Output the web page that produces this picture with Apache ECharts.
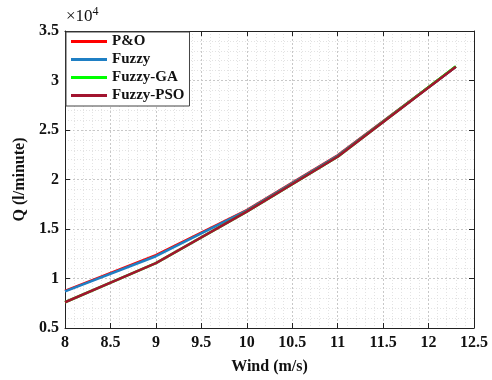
<!DOCTYPE html>
<html><head><meta charset="utf-8">
<script src="https://cdn.jsdelivr.net/npm/echarts@6/dist/echarts.min.js"></script>
<style>html,body{margin:0;padding:0;background:#fff}#c{width:492px;height:380px}</style>
</head><body><div id="c"></div>
<script>
const wind = [8, 9, 10, 11, 12.3];
const pao = [8750, 12350, 16900, 22450, 31400];
const fuzzy = [8700, 12250, 16850, 22400, 31400];
const fuzzyGA = [7600, 11550, 16750, 22300, 31450];
const fuzzyPSO = [7600, 11550, 16750, 22300, 31400];
const names = ['P&O', 'Fuzzy', 'Fuzzy-GA', 'Fuzzy-PSO'];
const colors = ['#ff0000', '#1f7fc4', '#00ff00', '#a2142f'];
const seriesData = [pao, fuzzy, fuzzyGA, fuzzyPSO];

const font = 'Liberation Serif';
const chart = echarts.init(document.getElementById('c'));
const gridLine = {show: true, lineStyle: {color: '#c8c8c8', type: [2, 2], width: 1}};
const minorLine = {show: true, lineStyle: {color: '#e3e3e3', type: [1, 2], width: 1}};
const lbl = {fontFamily: font, fontWeight: 'bold', fontSize: 16, color: '#111'};
chart.setOption({
  animation: false,
  backgroundColor: '#fff',
  grid: {left: 65, right: 18, top: 31, bottom: 43, containLabel: false},
  legend: {
    data: names, orient: 'vertical', left: 66, top: 32,
    icon: 'rect', itemWidth: 36, itemHeight: 3, itemGap: 3,
    padding: [2, 5, 3, 5], borderColor: '#444', borderWidth: 1, backgroundColor: '#fff',
    textStyle: {fontFamily: font, fontWeight: 'bold', fontSize: 15, color: '#111'}
  },
  xAxis: [{
    type: 'value', min: 8, max: 12.5, interval: 0.5, position: 'bottom',
    name: 'Wind (m/s)', nameLocation: 'middle', nameGap: 31,
    nameTextStyle: lbl,
    axisLine: {show: true, onZero: false, lineStyle: {color: '#222'}},
    axisTick: {show: true, inside: true, length: 5, lineStyle: {color: '#222'}},
    axisLabel: Object.assign({margin: 7}, lbl),
    splitLine: gridLine, minorTick: {show: false, splitNumber: 5}, minorSplitLine: minorLine
  }, {
    type: 'value', min: 8, max: 12.5, interval: 0.5, position: 'top',
    axisLine: {show: true, onZero: false, lineStyle: {color: '#222'}},
    axisTick: {show: true, inside: true, length: 5, lineStyle: {color: '#222'}},
    axisLabel: {show: false}, splitLine: {show: false}
  }],
  yAxis: [{
    type: 'value', min: 5000, max: 35000, interval: 5000, position: 'left',
    name: 'Q (l/minute)', nameLocation: 'middle', nameGap: 27,
    nameTextStyle: lbl,
    axisLine: {show: true, onZero: false, lineStyle: {color: '#222'}},
    axisTick: {show: true, inside: true, length: 5, lineStyle: {color: '#222'}},
    axisLabel: Object.assign({margin: 6, formatter: v => String(v / 10000)}, lbl),
    splitLine: gridLine, minorTick: {show: false, splitNumber: 5}, minorSplitLine: minorLine
  }, {
    type: 'value', min: 5000, max: 35000, interval: 5000, position: 'right',
    axisLine: {show: true, onZero: false, lineStyle: {color: '#222'}},
    axisTick: {show: true, inside: true, length: 5, lineStyle: {color: '#222'}},
    axisLabel: {show: false}, splitLine: {show: false}
  }],
  graphic: [{
    type: 'text', left: 66, top: 6,
    style: {
      text: '×10{sup|4}', fill: '#111', font: '17px "Liberation Serif"',
      rich: {sup: {fontSize: 12, fontFamily: font, verticalAlign: 'top', padding: [0, 0, 9, 0]}}
    }
  }],
  series: names.map((n, i) => ({
    name: n, type: 'line', symbol: 'none', xAxisIndex: 0, yAxisIndex: 0,
    lineStyle: {color: colors[i], width: 2.5}, itemStyle: {color: colors[i]},
    data: wind.map((w, j) => [w, seriesData[i][j]])
  }))
});
</script></body></html>
